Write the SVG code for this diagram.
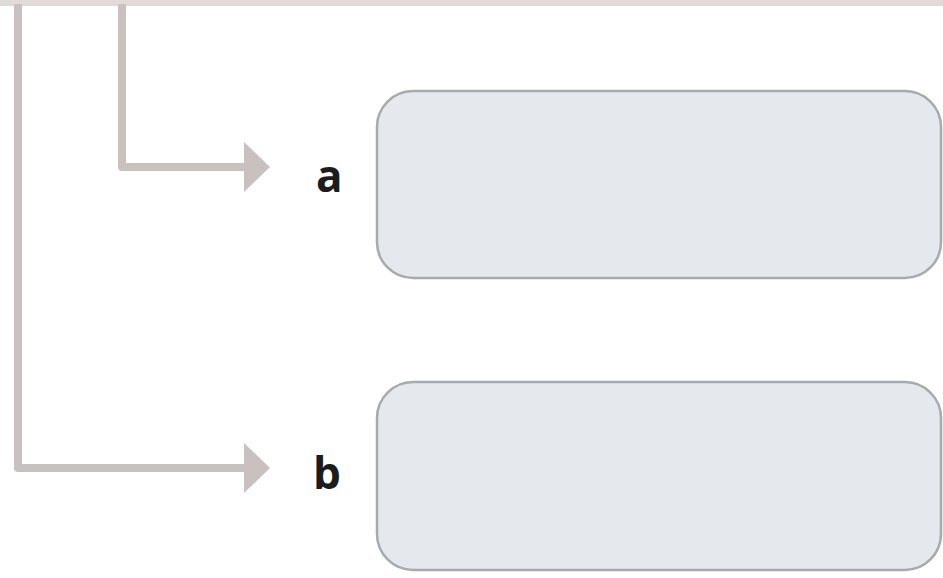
<svg xmlns="http://www.w3.org/2000/svg" width="943" height="578" viewBox="0 0 943 578">
<defs>
<style>
.conn{fill:none;stroke:#c9c1bf;stroke-width:8;stroke-linejoin:round}
.head{fill:#c9c1bf}
.box{fill:#e5e9ed;stroke:#a7abae;stroke-width:2.5}
.lbl{font-family:"Open Sans","Liberation Sans",sans-serif;font-weight:bold;font-size:44px;fill:#1c1c1c}
</style>
</defs>
<rect x="0" y="0" width="943" height="578" fill="#ffffff"/>
<rect x="0" y="0" width="943" height="6" fill="#e0dad8"/>
<g id="connectors">
<path class="conn" d="M122,4 V167 H247"/>
<polygon class="head" points="244,142 270,167 244,192"/>
<path class="conn" d="M18,4 V468 H247"/>
<polygon class="head" points="244,443 270,468 244,493"/>
</g>
<g id="node-a">
<rect class="box" x="377" y="91" width="564" height="187" rx="36"/>
<text class="lbl" x="316" y="192">a</text>
</g>
<g id="node-b">
<rect class="box" x="377" y="382" width="564" height="188" rx="36"/>
<text class="lbl" x="313" y="489">b</text>
</g>
</svg>
